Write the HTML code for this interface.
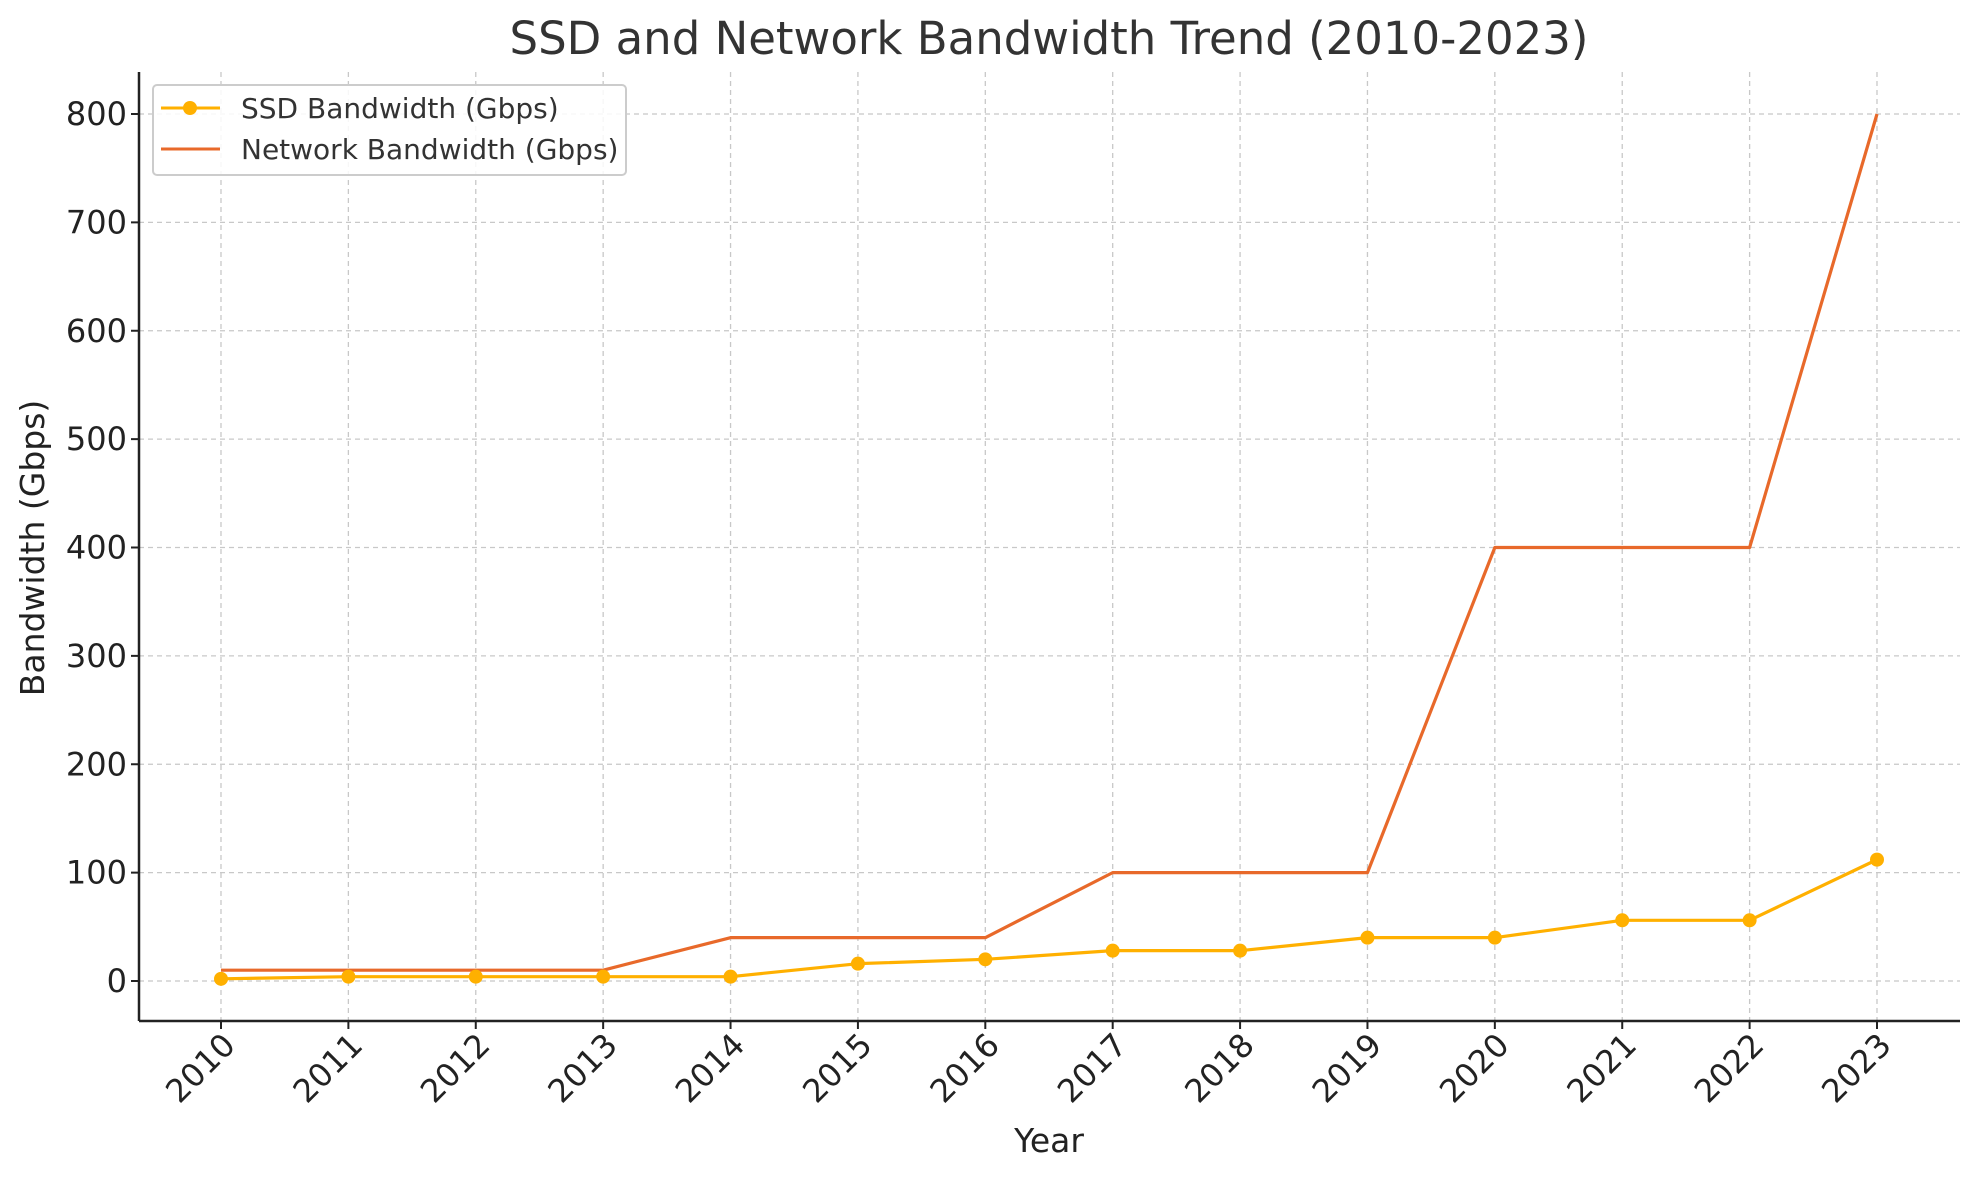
<!DOCTYPE html>
<html><head><meta charset="utf-8"><style>
html,body{margin:0;padding:0;background:#fff;}
svg{display:block;font-family:"DejaVu Sans","Liberation Sans",sans-serif;}
</style></head><body>
<svg id="chart" width="1979" height="1180" viewBox="0 0 1979 1180">
<rect width="1979" height="1180" fill="#fff"/>
<text x="1049" y="54" text-anchor="middle" font-size="45" fill="#333">SSD and Network Bandwidth Trend (2010-2023)</text>
<g id="grid"></g>
<g id="axes"></g>
<g id="series"></g>
<text x="1049" y="1152" text-anchor="middle" font-size="33" fill="#222">Year</text>
<text transform="translate(44,548) rotate(-90)" text-anchor="middle" font-size="33" fill="#222">Bandwidth (Gbps)</text>
<g>
<rect x="153" y="85" width="473" height="90" rx="4" fill="#fff" fill-opacity="0.85" stroke="#ccc" stroke-width="2"/>
<g>
<line x1="161" y1="108" x2="220" y2="108" stroke="#FFB000" stroke-width="3"/>
<circle cx="190" cy="108" r="7" fill="#FFB000"/>
<text x="241" y="118" font-size="28" fill="#333">SSD Bandwidth (Gbps)</text>
</g>
<g>
<line x1="161" y1="149" x2="220" y2="149" stroke="#E8692A" stroke-width="3"/>
<text x="241" y="159" font-size="28" fill="#333">Network Bandwidth (Gbps)</text>
</g>
</g>
</svg>
<script>
const years = [2010,2011,2012,2013,2014,2015,2016,2017,2018,2019,2020,2021,2022,2023];
const ssdValues = [2,4,4,4,4,16,20,28,28,40,40,56,56,112];
const networkValues = [10,10,10,10,40,40,40,100,100,100,400,400,400,800];
const yTicks = [0,100,200,300,400,500,600,700,800];

const NS = "http://www.w3.org/2000/svg";
const plotLeft = 139, plotRight = 1960, plotTop = 72, plotBottom = 1021;
const xStart = 221, xEnd = 1877;
const yZero = 981, y800 = 114;
function xScale(i){ return xStart + (xEnd - xStart) * i / (years.length - 1); }
function yScale(v){ return yZero + (y800 - yZero) * v / 800; }
function mk(tag, attrs, parent){ const e = document.createElementNS(NS, tag); for (const k in attrs) e.setAttribute(k, attrs[k]); parent.appendChild(e); return e; }

const grid = document.getElementById('grid');
const axes = document.getElementById('axes');
const series = document.getElementById('series');

yTicks.forEach(t => {
  const y = yScale(t);
  const gl = mk('line', {x1:plotLeft, x2:plotRight, y1:y, y2:y, stroke:'#c8c8c8', 'stroke-width':1.3, 'stroke-dasharray':'5,4'}, grid);
  
  
  mk('line', {x1:plotLeft-8, x2:plotLeft, y1:y, y2:y, stroke:'#222', 'stroke-width':2}, axes);
  const tx = mk('text', {x:plotLeft-12, y:y+11, 'text-anchor':'end', 'font-size':32, fill:'#222'}, axes);
  tx.textContent = t;
  
  
});
years.forEach((yr, i) => {
  const x = xScale(i);
  const gl = mk('line', {x1:x, x2:x, y1:plotTop, y2:plotBottom, stroke:'#c8c8c8', 'stroke-width':1.3, 'stroke-dasharray':'5,4'}, grid);
  
  
  mk('line', {x1:x, x2:x, y1:plotBottom, y2:plotBottom+8, stroke:'#222', 'stroke-width':2}, axes);
  const tx = mk('text', {transform:`translate(${x+16},${plotBottom+26}) rotate(-45)`, 'text-anchor':'end', 'font-size':32, fill:'#222'}, axes);
  tx.textContent = yr;
  
  
});
mk('line', {x1:plotLeft, x2:plotLeft, y1:plotTop, y2:plotBottom, stroke:'#222', 'stroke-width':2.5}, axes);
mk('line', {x1:plotLeft, x2:plotRight, y1:plotBottom, y2:plotBottom, stroke:'#222', 'stroke-width':2.5}, axes);

const netPath = mk('polyline', {points: networkValues.map((v,i)=>xScale(i)+','+yScale(v)).join(' '), fill:'none', stroke:'#E8692A', 'stroke-width':3.2, 'stroke-linejoin':'round'}, series);


const ssdPath = mk('polyline', {points: ssdValues.map((v,i)=>xScale(i)+','+yScale(v)).join(' '), fill:'none', stroke:'#FFB000', 'stroke-width':3.2, 'stroke-linejoin':'round'}, series);


ssdValues.forEach((v,i) => {
  const c = mk('circle', {cx:xScale(i), cy:yScale(v), r:7, fill:'#FFB000'}, series);
  
  
});
</script>
</body></html>
